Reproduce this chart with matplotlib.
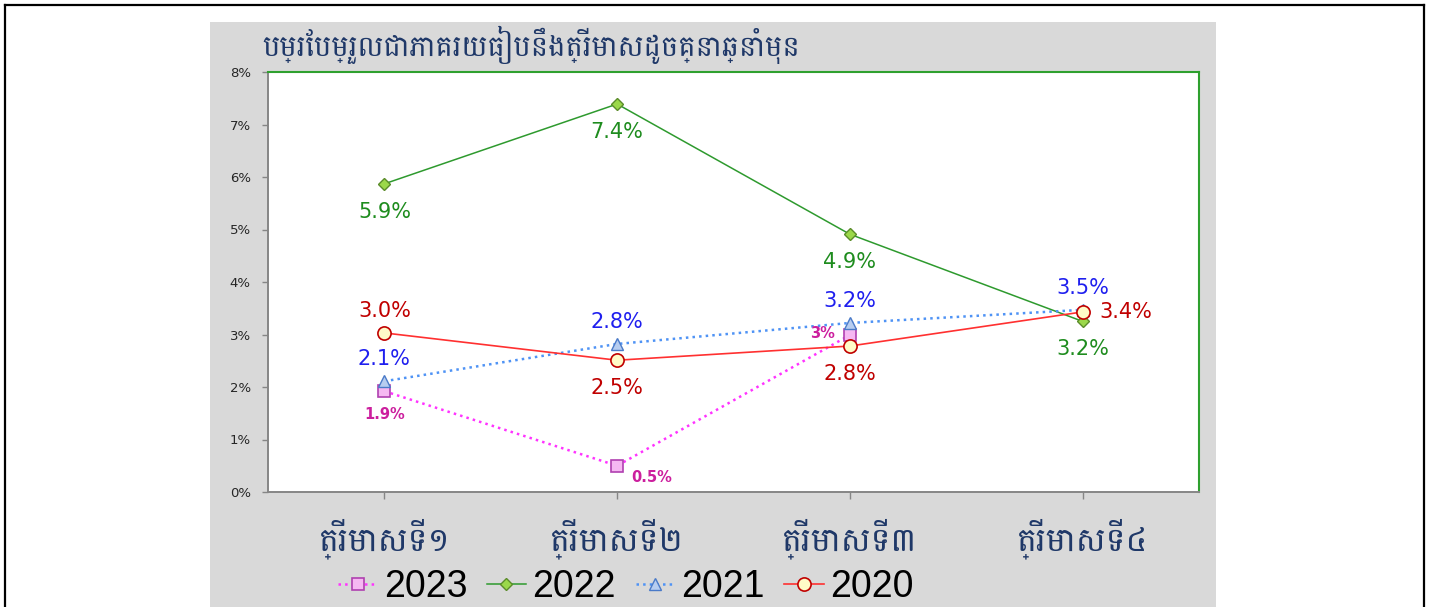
import numpy as np
import matplotlib
matplotlib.use('Agg')
import matplotlib.pyplot as plt
from matplotlib.patches import Rectangle
from matplotlib.lines import Line2D

# data (percent)
quarters = ['ត្រីមាសទី១', 'ត្រីមាសទី២', 'ត្រីមាសទី៣', 'ត្រីមាសទី៤']
title = 'បម្រែបម្រួលជាភាគរយធៀបនឹងត្រីមាសដូចគ្នាឆ្នាំមុន'

y2023 = [1.92, 0.50, 2.99]
y2022 = [5.87, 7.39, 4.91, 3.25]
y2021 = [2.11, 2.82, 3.22, 3.47]
y2020 = [3.03, 2.51, 2.78, 3.43]

lab2023 = ['1.9%', '0.5%', '3%']
lab2022 = ['5.9%', '7.4%', '4.9%', '3.2%']
lab2021 = ['2.1%', '2.8%', '3.2%', '3.5%']
lab2020 = ['3.0%', '2.5%', '2.8%', '3.4%']

yticks = [0, 1, 2, 3, 4, 5, 6, 7, 8]

KHMER = ['Battambang', 'DejaVu Sans']
W, H = 1432, 607

fig = plt.figure(figsize=(W / 100, H / 100), dpi=100)
fig.patch.set_facecolor('white')

# grey chart panel + black outer frame
fig.patches.append(Rectangle((210 / W, 0), (1216 - 210) / W, 1 - 22 / H,
                             transform=fig.transFigure, facecolor='#d9d9d9',
                             edgecolor='none', zorder=-5))
for xs, ys in [([5 / W, 1424 / W], [1 - 5 / H, 1 - 5 / H]),
               ([5 / W, 5 / W], [0, 1 - 5 / H]),
               ([1424 / W, 1424 / W], [0, 1 - 5 / H])]:
    fig.lines.append(Line2D(xs, ys, transform=fig.transFigure, color='black', lw=1.6))

ax = fig.add_axes([268 / W, 1 - 492 / H, (1199 - 268) / W, (492 - 72) / H])
ax.set_zorder(2)
ax.set_facecolor('white')

x = np.arange(len(quarters))

series = [
    ('2023', y2023, lab2023, dict(color='#ff33ff', ls=':', lw=1.8, marker='s', ms=9,
                                  mfc='#f6b8f2', mec='#b040b0', mew=1.2),
     '#cc1f9e', ['below', 'rightlow', 'left']),
    ('2022', y2022, lab2022, dict(color='#2e9a2e', ls='-', lw=1.1, marker='D', ms=6.5,
                                  mfc='#9bd84a', mec='#5b8c2a', mew=1.0),
     '#1e8c1e', ['below', 'below', 'below', 'below']),
    ('2021', y2021, lab2021, dict(color='#4f93f5', ls=':', lw=1.8, marker='^', ms=9,
                                  mfc='#b7cdf0', mec='#4a7ac8', mew=1.0),
     '#1f1fef', ['above', 'above', 'above', 'above']),
    ('2020', y2020, lab2020, dict(color='#ff3030', ls='-', lw=1.2, marker='o', ms=9.5,
                                  mfc='#fffbc8', mec='#c00000', mew=1.2),
     '#c00000', ['above', 'below', 'below', 'right']),
]

offsets = {'above': (0, 22, 'center'), 'below': (0, -28, 'center'),
           'right': (17, 0, 'left'), 'left': (-15, 2, 'right'),
           'rightlow': (14, -12, 'left')}

handles = []
for name, vals, labs, style, lcol, pos in series:
    xx = x[:len(vals)]
    h, = ax.plot(xx, vals, label=name, zorder=3, **style)
    handles.append(h)
    bold = name == '2023'
    for xi, v, t, p in zip(xx, vals, labs, pos):
        if bold and p == 'below':
            dx, dy, ha = 0, -23, 'center'
        else:
            dx, dy, ha = offsets[p]
        ax.annotate(t, (xi, v), xytext=(dx, dy), textcoords='offset pixels',
                    ha=ha, va='center', color=lcol,
                    fontsize=10.5 if bold else 15,
                    fontweight='bold' if bold else 'normal', zorder=4)

ax.set_xlim(-0.5, 3.5)
ax.set_ylim(0, 8)
ax.set_yticks(yticks)
ax.set_yticklabels(['%d%%' % v for v in yticks], fontsize=9.5, color='#262626')
ax.set_xticks(x)
ax.set_xticklabels(quarters, fontsize=24, color='#1f3868', family=KHMER)
ax.tick_params(axis='y', length=4.5, width=1, color='#868686', pad=8)
ax.tick_params(axis='x', length=5, width=1, color='#868686', pad=14)

for s in ['left', 'bottom']:
    ax.spines[s].set_color('#868686')
    ax.spines[s].set_linewidth(1.4)
for s in ['top', 'right']:
    ax.spines[s].set_color('#2ea02e')
    ax.spines[s].set_linewidth(1.5)

fig.text(262 / W, 1 - 45 / H, title, fontsize=21, color='#1f3868',
         family=KHMER, ha='left', va='center')

leg = fig.legend(handles=handles, loc='center left',
                 bbox_to_anchor=(338 / W, 1 - 587 / H), ncol=4, frameon=False,
                 prop={'family': 'Liberation Sans', 'size': 27},
                 handlelength=1.05, handletextpad=0.17, columnspacing=0.52,
                 borderpad=0, borderaxespad=0)

fig.savefig('out.png', dpi=100)
